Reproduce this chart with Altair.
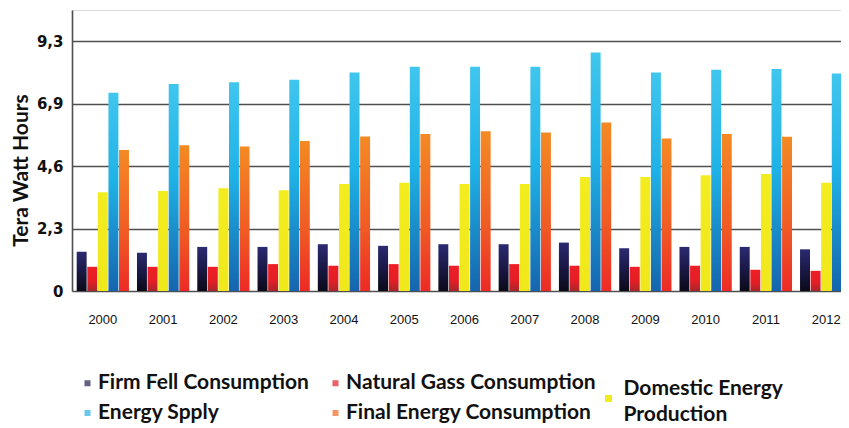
import altair as alt
import pandas as pd

years = ["2000", "2001", "2002", "2003", "2004", "2005", "2006",
         "2007", "2008", "2009", "2010", "2011", "2012"]
series_names = ["Firm Fell  Consumption", "Natural Gass Consumption",
                "Domestic Energy Production", "Energy Spply",
                "Final Energy Consumption"]
firm_fell = [1.46, 1.42, 1.64, 1.64, 1.74, 1.68, 1.74, 1.74, 1.80, 1.59, 1.64, 1.64, 1.55]
natural_gas = [0.90, 0.90, 0.90, 1.00, 0.94, 1.00, 0.94, 1.00, 0.94, 0.90, 0.94, 0.79, 0.75]
domestic = [3.67, 3.72, 3.82, 3.75, 3.98, 4.03, 3.98, 3.98, 4.24, 4.24, 4.30, 4.35, 4.03]
supply = [7.37, 7.70, 7.76, 7.86, 8.13, 8.34, 8.34, 8.34, 8.87, 8.13, 8.23, 8.26, 8.09]
final = [5.24, 5.42, 5.37, 5.58, 5.75, 5.84, 5.94, 5.89, 6.27, 5.67, 5.84, 5.74, None]

y_tick_values = [0, 1.161, 2.322, 3.483, 4.644, 5.806, 6.967, 8.128, 9.289, 10.45]
y_tick_labels = ["0", "", "2,3", "", "4,6", "", "6,9", "", "9,3", ""]

legend_colors = ["#1f1d4f", "#e31e25", "#f2ea1c", "#2aaee6", "#f26a26"]

series_values = [firm_fell, natural_gas, domestic, supply, final]
rows = []
for name, vals in zip(series_names, series_values):
    for yr, v in zip(years, vals):
        if v is not None:
            rows.append({"year": yr, "series": name, "value": v})
df = pd.DataFrame(rows)

gradients = [
    [("#2c2a72", 0), ("#1a1845", 0.5), ("#0b0a18", 1)],
    [("#ee1f26", 0), ("#e41e25", 0.6), ("#a8262b", 1)],
    [("#f3ec1e", 0), ("#f0e81a", 1)],
    [("#40c6ee", 0), ("#1fb2e6", 0.45), ("#1565ae", 1)],
    [("#f48a24", 0), ("#f05a24", 0.6), ("#ec2a25", 1)],
]

label_expr = " : ".join(
    f"abs(datum.value - {v}) < 0.01 ? '{l}'" for v, l in zip(y_tick_values, y_tick_labels)
) + " : ''"

x_enc = alt.X("year:N", sort=years,
              scale=alt.Scale(range=[0, 785], paddingInner=0.133, paddingOuter=0.078),
              axis=alt.Axis(title=None, labelAngle=0, ticks=False, domain=False,
                            labelFont="Liberation Sans", labelFontSize=13, labelColor="#111",
                            labelPadding=22, labelBaseline="top"))
xoff_enc = alt.XOffset("series:N", sort=series_names,
                       scale=alt.Scale(domain=series_names, paddingInner=0.06))
y_enc = alt.Y("value:Q",
              scale=alt.Scale(domain=[0, 10.45], nice=False, zero=True),
              axis=alt.Axis(title="Tera Watt Hours", values=y_tick_values,
                            labelExpr=label_expr, ticks=False,
                            labelFont="DejaVu Sans", labelFontSize=15, labelFontWeight="bold",
                            labelColor="#111", labelPadding=9,
                            grid=True, gridColor="#4f4f4f", gridWidth=1.6,
                            domain=True, domainColor="#4f4f4f", domainWidth=1.6,
                            titleFont="Lato", titleFontSize=21,
                            titleFontWeight="bold", titleColor="#111",
                            titleX=-45, titleY=160, titleBaseline="alphabetic",
                            titleAlign="center", titleAngle=270))

base = alt.Chart(df)
layers = []
for name, stops in zip(series_names, gradients):
    grad = alt.LinearGradient(gradient="linear",
                              stops=[alt.GradientStop(color=c, offset=o) for c, o in stops],
                              x1=0, x2=0, y1=0, y2=1)
    layers.append(
        base.transform_filter(alt.datum.series == name)
        .mark_bar(color=grad)
        .encode(x=x_enc, xOffset=xoff_enc, y=y_enc)
    )

legend_main = [series_names[0], series_names[1], series_names[3], series_names[4]]
legend_layer = base.transform_filter("false").mark_square(size=36).encode(
    x=alt.X("year:N", sort=years),
    y=alt.Y("value:Q"),
    color=alt.Color("series:N",
                    scale=alt.Scale(domain=series_names, range=legend_colors),
                    legend=alt.Legend(title=None, orient="none", legendX=5, legendY=362.5,
                                      columns=2, direction="horizontal", values=legend_main,
                                      symbolType="square", symbolSize=36, symbolStrokeWidth=0,
                                      labelFont="Lato", labelFontSize=21,
                                      labelFontWeight="bold", labelColor="#111",
                                      labelOffset=0, labelLimit=400,
                                      columnPadding=11, rowPadding=8, padding=0)),
)
dom_layer = base.transform_filter("false").mark_point(filled=True, size=49, color="#f2ea1c",
                                                      opacity=1).encode(
    x=alt.X("year:N", sort=years),
    y=alt.Y("value:Q"),
    shape=alt.Shape("series:N",
                    scale=alt.Scale(domain=[series_names[2]], range=["square"]),
                    legend=alt.Legend(title=None, orient="none", legendX=526, legendY=378,
                                      symbolType="square", symbolSize=49, symbolStrokeWidth=0,
                                      symbolFillColor="#f2ea1c", symbolOpacity=1,
                                      labelExpr="['Domestic Energy', 'Production']",
                                      labelBaseline="bottom",
                                      labelFont="Lato", labelFontSize=21,
                                      labelFontWeight="bold", labelColor="#111",
                                      labelOffset=4.5, labelLimit=400, padding=0)),
)

chart = alt.layer(*layers, legend_layer, dom_layer).properties(
    width=769, height=281,
    autosize=alt.AutoSizeParams(type="none"),
    padding={"left": 64, "top": 2, "right": 0, "bottom": 135},
).resolve_legend(color="independent", shape="independent").configure_view(
    strokeWidth=0
).configure(
    background="white",
    style={"guide-label": {"lineHeight": 26}},
)

chart.save("out.html", embed_options={"renderer": "svg", "actions": False})
